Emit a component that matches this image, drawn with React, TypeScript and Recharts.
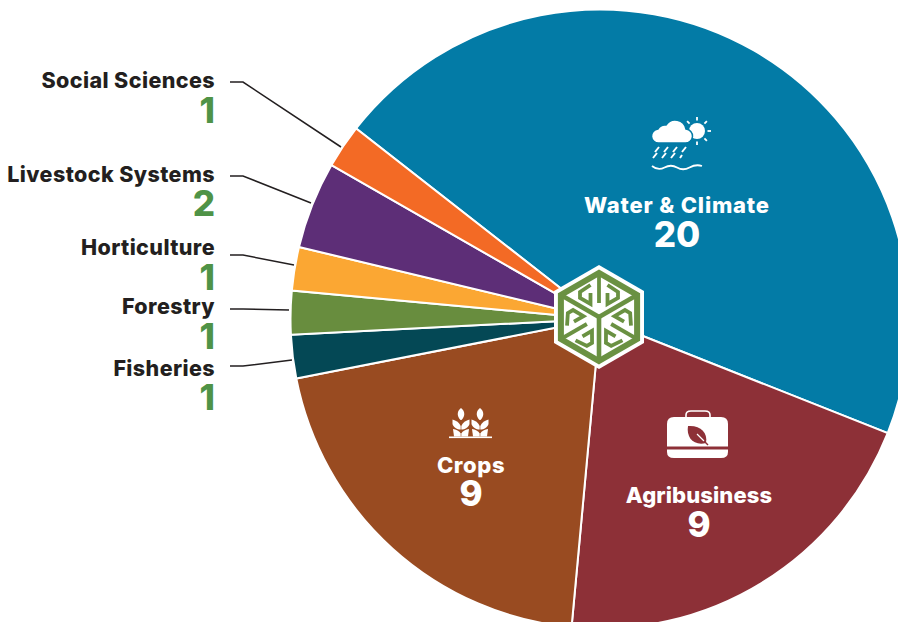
import React from "react";
import { PieChart, Pie, Cell } from "recharts";

const categories = [
  "Water & Climate",
  "Agribusiness",
  "Crops",
  "Fisheries",
  "Forestry",
  "Horticulture",
  "Livestock Systems",
  "Social Sciences",
];
const counts = [20, 9, 9, 1, 1, 1, 2, 1];
const colors = [
  "#037BA6",
  "#8D3037",
  "#994B21",
  "#044855",
  "#688D3E",
  "#FBA733",
  "#5D2E77",
  "#F36A25",
];

const data = categories.map((name, i) => ({ name, value: counts[i] }));

const WIDTH = 898;
const HEIGHT = 622;
const CX = 600;
const CY = 319;
const RADIUS = 309.5;
const FONT = "Inter, 'Open Sans', sans-serif";
const INK = "#231F20";
const GREEN = "#4F9347";
const LOGO_GREEN = "#6A9142";

// label positions: text y, number y and leader line points for the small slices
const outerLabels: Record<string, { y: number; numY: number; line: string }> = {
  "Social Sciences": { y: 88, numY: 123, line: "230,82 243,82 341,147" },
  "Livestock Systems": { y: 182, numY: 216, line: "230,176 243,176 311,203" },
  Horticulture: { y: 255, numY: 290, line: "230,255 243,255 294,265" },
  Forestry: { y: 314, numY: 349, line: "230,309 243,309 289,310" },
  Fisheries: { y: 376, numY: 410, line: "230,366 243,366 292,360" },
};

const innerLabels: Record<string, { x: number; y: number; numY: number; spacing: number }> = {
  "Water & Climate": { x: 677, y: 213, numY: 247, spacing: 0.8 },
  Agribusiness: { x: 699, y: 503, numY: 537, spacing: 0.1 },
  Crops: { x: 471, y: 473, numY: 506, spacing: 0.6 },
};

const renderLabel = (props: any) => {
  const { name, value } = props;
  const inner = innerLabels[name];
  if (inner) {
    return (
      <g fontFamily={FONT} fontWeight={800}>
        <text x={inner.x} y={inner.y} fontSize={22} letterSpacing={inner.spacing} fill="#fff" textAnchor="middle">
          {name}
        </text>
        <text x={inner.x} y={inner.numY} fontSize={35} fill="#fff" textAnchor="middle">
          {value}
        </text>
      </g>
    );
  }
  const outer = outerLabels[name];
  return (
    <g fontFamily={FONT} fontWeight={800}>
      <polyline points={outer.line} fill="none" stroke={INK} strokeWidth={1.5} />
      <text x={215} y={outer.y} fontSize={21.5} letterSpacing={0.4} fill={INK} textAnchor="end">
        {name}
      </text>
      <text x={215} y={outer.numY} fontSize={35} fill={GREEN} textAnchor="end">
        {value}
      </text>
    </g>
  );
};

const hexPoints = (r: number) =>
  [90, 30, -30, -90, -150, 150]
    .map((a) => {
      const t = (a * Math.PI) / 180;
      return `${(r * Math.cos(t)).toFixed(1)},${(r * Math.sin(t)).toFixed(1)}`;
    })
    .join(" ");

const Logo = () => (
  <g transform="translate(599,317)">
    <polygon points={hexPoints(52)} fill="#fff" />
    <polygon points={hexPoints(44)} fill="#fff" stroke={LOGO_GREEN} strokeWidth={6} />
    {[0, 120, 240].map((rot) => (
      <g key={rot} transform={`rotate(${rot})`} fill="none" stroke={LOGO_GREEN} strokeWidth={3.8}>
        <line x1={0} y1={0} x2={38.1} y2={-22} strokeWidth={4.6} />
        <polyline points="0,-44 0,-14" />
        <polyline points="-8.5,-32 -19,-25 -19,-19 -8.5,-13 -8.5,-24" />
        <polyline points="8.5,-32 19,-25 19,-19 8.5,-13 8.5,-24" />
      </g>
    ))}
  </g>
);

const WeatherIcon = () => (
  <g>
    <circle cx={697} cy={131} r={8} fill="#fff" />
    {[0, 45, 90, 135, 180, 225, 270, 315].map((a) => (
      <line
        key={a}
        x1={697 + 10.5 * Math.cos((a * Math.PI) / 180)}
        y1={131 + 10.5 * Math.sin((a * Math.PI) / 180)}
        x2={697 + 14 * Math.cos((a * Math.PI) / 180)}
        y2={131 + 14 * Math.sin((a * Math.PI) / 180)}
        stroke="#fff"
        strokeWidth={1.8}
      />
    ))}
    <path
      d="M659 143 A7 7 0 0 1 658 129 A8 8 0 0 1 666 125 A11 11 0 0 1 686 129 A7 7 0 0 1 685 143 Z"
      fill="#fff"
      stroke="#037BA6"
      strokeWidth={1.5}
    />
    <path
      d="M655 152 l4 -5 M664 152 l4 -5 M673 152 l4 -5 M682 152 l4 -5 M653 158 l4 -5 M662 158 l4 -5 M671 158 l4 -5 M680 158 l2 -3"
      stroke="#fff"
      strokeWidth={2}
      fill="none"
    />
    <path
      d="M652 166 q6 5 12.5 1.5 t12.5 0 t12.5 0 t12.5 -1.5"
      stroke="#fff"
      strokeWidth={1.8}
      fill="none"
    />
  </g>
);

const BriefcaseIcon = () => (
  <g>
    <path d="M686 417 v-2 q0 -4 5 -4 h14 q5 0 5 4 v2" fill="none" stroke="#fff" strokeWidth={1.6} />
    <path d="M674 417 H721 Q728 417 728 424 V446.5 H667 V424 Q667 417 674 417 Z" fill="#fff" />
    <path d="M667 449.5 H728 V452 Q728 458 721 458 H674 Q667 458 667 452 Z" fill="#fff" />
    <path d="M688 426 C700 425 708 432 706 443 C694 446 686 438 688 426 Z" fill="#8D3037" />
    <path d="M697 434 L704 441" stroke="#fff" strokeWidth={1.2} />
    <path d="M704 441 L708 445" stroke="#8D3037" strokeWidth={1.4} />
  </g>
);

const Plant = ({ x }: { x: number }) => (
  <g transform={`translate(${x},0)`} fill="#fff">
    <path d="M0 408 C4 411 4.5 416 0.5 420 H-0.5 C-4.5 416 -4 411 0 408 Z" />
    <path d="M-0.3 429.5 V426 C-1.5 422.5 -5 420.5 -8.5 419.5 V424 C-7.5 427.5 -4 429.5 -0.3 429.5 Z" />
    <path d="M0.3 429.5 V426 C1.5 422.5 5 420.5 8.5 419.5 V424 C7.5 427.5 4 429.5 0.3 429.5 Z" />
    <path d="M-0.3 436.5 V433.5 C-1.5 431 -5 429.5 -8 429 L-7 436.5 Z" />
    <path d="M0.3 436.5 V433.5 C1.5 431 5 429.5 8 429 L7 436.5 Z" />
  </g>
);

const CropsIcon = () => (
  <g>
    <Plant x={461} />
    <Plant x={480} />
    <rect x={449} y={436.5} width={43} height={1.6} fill="#fff" />
  </g>
);

export default function App() {
  return (
    <div style={{ position: "absolute", left: 0, top: 0, width: WIDTH, height: HEIGHT, overflow: "hidden", background: "#fff" }}>
      <PieChart width={WIDTH} height={HEIGHT} margin={{ top: 0, right: 0, bottom: 0, left: 0 }}>
        <Pie
          data={data}
          dataKey="value"
          nameKey="name"
          cx={CX}
          cy={CY}
          innerRadius={0}
          outerRadius={RADIUS}
          startAngle={142}
          endAngle={-218}
          stroke="#fff"
          strokeWidth={2}
          label={renderLabel}
          labelLine={false}
          isAnimationActive={false}
        >
          {data.map((d, i) => (
            <Cell key={d.name} fill={colors[i]} />
          ))}
        </Pie>
      </PieChart>
      {/* logo and icons sit above the pie in their own layer */}
      <svg width={WIDTH} height={HEIGHT} style={{ position: "absolute", left: 0, top: 0, pointerEvents: "none" }}>
        <Logo />
        <WeatherIcon />
        <BriefcaseIcon />
        <CropsIcon />
      </svg>
    </div>
  );
}
